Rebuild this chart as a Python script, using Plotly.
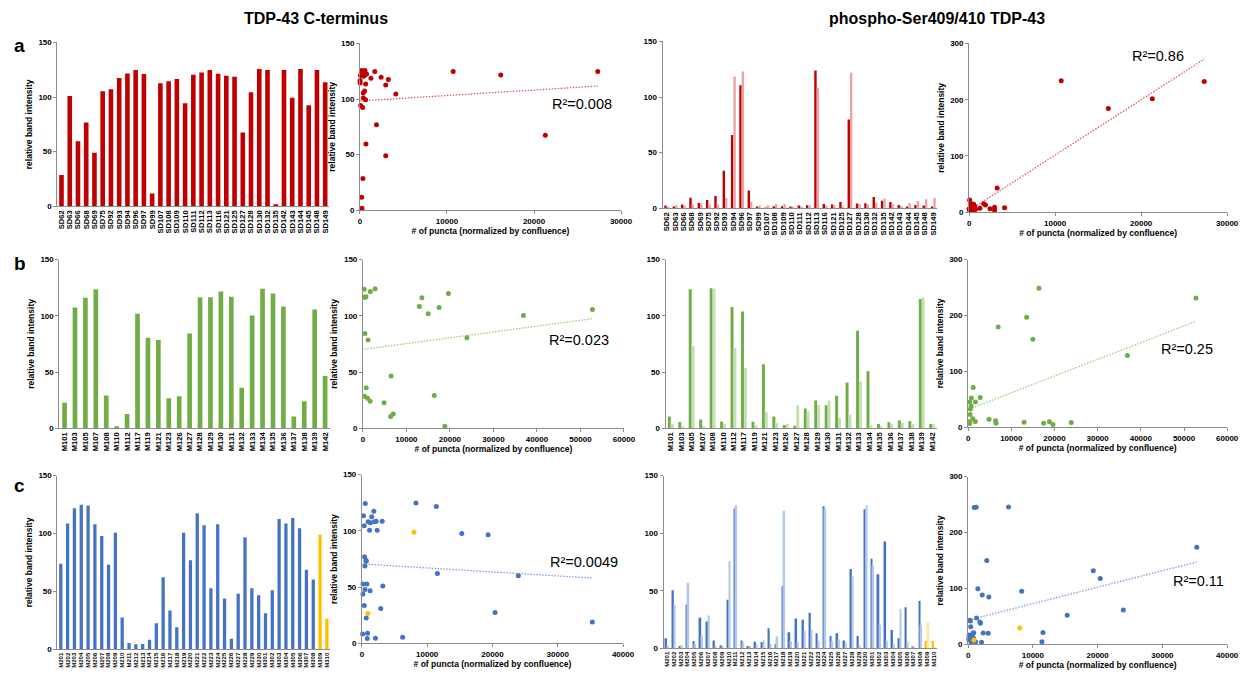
import numpy as np
import plotly.graph_objects as go

W, H = 1256, 678
FONT = "Liberation Sans, Arial, sans-serif"
AXIS_GREY = "#8c8c8c"

# ---------------- SD series ----------------
sd_labels = ["SD62", "SD63", "SD66", "SD68", "SD69", "SD75", "SD92", "SD93", "SD94", "SD96",
             "SD97", "SD99", "SD107", "SD108", "SD109", "SD110", "SD111", "SD112", "SD113", "SD116",
             "SD121", "SD125", "SD127", "SD128", "SD130", "SD132", "SD135", "SD142", "SD143", "SD144",
             "SD145", "SD148", "SD149"]
sd_cterm = [28.6, 100.9, 59.6, 76.8, 49.1, 105.4, 107.2, 117.5, 121.7, 124.7,
            121.1, 11.7, 112.7, 114.5, 116.6, 94.3, 120.5, 122.6, 124.7, 121.4,
            119.6, 118.7, 67.5, 104.5, 125.6, 124.7, 1.8, 124.7, 99.4, 125.6,
            92.5, 124.7, 113.6]
sd_phos_rep1 = [2.4, 1.5, 3.3, 9.5, 4.7, 7.4, 11.0, 33.8, 65.8, 110.6,
                16.0, 1.0, 0.6, 1.8, 1.8, 1.5, 2.4, 2.7, 124.0, 3.9,
                3.3, 5.6, 79.8, 4.2, 4.4, 10.1, 6.8, 5.6, 3.0, 1.5,
                3.0, 2.4, 1.5]
sd_phos_rep2 = [1.0, 2.7, 2.4, 3.3, 4.2, 3.3, 3.3, 9.2, 118.6, 123.0,
                5.9, 2.4, 2.7, 3.9, 3.9, 1.2, 1.8, 2.7, 108.2, 2.4,
                2.7, 1.5, 122.0, 3.9, 3.3, 5.0, 8.6, 3.6, 2.1, 4.7,
                6.5, 8.0, 9.2]
sd_puncta = [340, 380, 690, 1900, 2960, 380, 530, 3260, 16180, 10710,
             60, 190, 2960, 20, 10, 76, 380, 760, 27330, 570,
             2430, 1260, 21300, 4120, 190, 1700, 230, 460, 650, 570,
             305, 300, 650]

# ---------------- M1xx series ----------------
m1_labels = ["M101", "M103", "M105", "M107", "M108", "M110", "M112", "M117", "M119", "M121",
             "M123", "M126", "M127", "M128", "M129", "M130", "M131", "M132", "M133", "M134",
             "M135", "M136", "M137", "M138", "M139", "M142"]
m1_cterm = [22.8, 107.3, 116.1, 123.7, 29.2, 1.8, 12.6, 101.8, 80.4, 78.4,
            26.6, 28.4, 84.2, 116.4, 116.4, 121.6, 117.0, 36.0, 100.3, 124.0,
            119.9, 108.2, 10.5, 24.0, 105.6, 46.5]
m1_phos_rep1 = [10.5, 5.6, 123.7, 7.9, 124.6, 6.1, 107.9, 103.8, 5.8, 57.0,
                10.5, 2.9, 2.3, 17.5, 24.6, 20.5, 28.9, 40.6, 86.8, 50.6,
                3.8, 5.3, 7.0, 6.4, 114.9, 3.8]
m1_phos_rep2 = [3.8, 1.5, 73.1, 2.0, 124.0, 3.8, 71.3, 53.8, 2.9, 14.3,
                4.7, 3.8, 20.5, 15.2, 20.8, 24.6, 9.1, 12.0, 41.5, 2.9,
                1.2, 3.8, 4.7, 3.8, 116.4, 3.5]
m1_puncta = [4850, 17500, 13560, 300, 16400, 18840, 6970, 15000, 23900, 1170,
             1060, 380, 450, 530, 340, 1700, 690, 760, 36900, 2800,
             19650, 12960, 6360, 1660, 52750, 6480]

# ---------------- M2xx / M3xx series ----------------
m2_labels = ["M201", "M202", "M203", "M204", "M205", "M206", "M207", "M208", "M209", "M210",
             "M211", "M212", "M213", "M214", "M215", "M216", "M217", "M218", "M219", "M220",
             "M221", "M222", "M223", "M224", "M225", "M226", "M227", "M228", "M229", "M230",
             "M301", "M302", "M303", "M304", "M305", "M306", "M307", "M308", "M309", "M310"]
m2_cterm = [73.9, 108.6, 121.8, 124.9, 124.3, 108.1, 97.8, 73.0, 100.7, 27.4,
            5.4, 4.3, 4.6, 8.3, 22.5, 62.2, 33.6, 19.1, 100.7, 77.0,
            117.5, 107.2, 52.8, 108.1, 43.9, 9.1, 47.9, 96.7, 52.8, 46.8,
            31.1, 51.0, 112.6, 108.6, 113.5, 104.6, 68.7, 60.2, 98.9, 26.5]
m2_phos_rep1 = [8.8, 50.5, 2.0, 37.9, 6.3, 26.5, 23.4, 6.8, 2.6, 42.2,
                121.5, 6.8, 2.0, 5.7, 5.4, 17.4, 3.7, 54.2, 14.0, 25.9,
                24.8, 30.8, 13.1, 123.5, 10.6, 13.1, 6.8, 69.0, 10.6, 120.9,
                77.8, 64.4, 92.7, 16.0, 8.8, 35.6, 1.7, 41.3, 6.3, 6.3]
m2_phos_rep2 = [2.9, 37.9, 2.9, 57.0, 3.7, 11.4, 28.5, 2.0, 2.0, 75.6,
                124.3, 5.1, 2.0, 3.1, 7.1, 3.7, 10.3, 119.5, 6.3, 5.7,
                15.1, 16.3, 6.6, 121.5, 6.3, 7.7, 4.8, 62.7, 3.1, 124.3,
                72.1, 20.5, 6.6, 3.7, 34.2, 6.0, 1.1, 20.2, 22.8, 1.4]
m2_puncta = [610, 2180, 11400, 8270, 510, 1900, 15300, 660, 1160, 20400,
             6240, 810, 2070, 100, 660, 11560, 350, 35300, 2330, 400,
             1820, 1290, 760, 950, 150, 860, 460, 19330, 150, 1250,
             2880, 3200, 1500, 3100, 250, 350, 460, 23970, 7970, 910]
m2_highlight = ["M309", "M310"]

r2_cterm = ["0.008", "0.023", "0.0049"]
r2_phos = ["0.86", "0.25", "0.11"]

column_titles = ["TDP-43 C-terminus", "phospho-Ser409/410 TDP-43"]
row_letters = ["a", "b", "c"]

# ---------------- styling per row ----------------
rows = [
    dict(labels=sd_labels, cterm=sd_cterm, rep1=sd_phos_rep1, rep2=sd_phos_rep2, puncta=sd_puncta,
         highlight=[], dark="#C00000", light="#EBA3A3", trend="#E05A5A",
         xmax=30000, xdtick=10000, catsize=7.6, single_w=0.56, pair_w=0.29),
    dict(labels=m1_labels, cterm=m1_cterm, rep1=m1_phos_rep1, rep2=m1_phos_rep2, puncta=m1_puncta,
         highlight=[], dark="#70AD47", light="#C5E0B4", trend="#9CCB7E",
         xmax=60000, xdtick=10000, catsize=7.6, single_w=0.45, pair_w=0.28),
    dict(labels=m2_labels, cterm=m2_cterm, rep1=m2_phos_rep1, rep2=m2_phos_rep2, puncta=m2_puncta,
         highlight=m2_highlight, dark="#4472C4", light="#B4C7E7", trend="#7E9FD8",
         xmax=40000, xdtick=10000, catsize=6.0, single_w=0.48, pair_w=0.25),
]
HL_DARK, HL_LIGHT = "#FFC000", "#FFE699"

# panel rectangles in pixels: left, right, top, bottom
panel_px = [
    [(56, 331, 39, 205), (362, 626, 40, 209), (668, 946, 38, 207), (978, 1239, 40, 211)],
    [(58, 332, 259, 430), (365, 629, 259, 430), (671, 946, 259, 430), (977, 1239, 259, 429)],
    [(56, 332, 478, 654), (364, 628, 477, 648), (669, 946, 478, 653), (977, 1239, 479, 649)],
]
r2_pos = [[(587, 101), (1169, 53)], [(583, 341), (1198, 350)], [(589, 566), (1210, 585)]]


def tick_font(size=8):
    return dict(family=FONT, size=size, color="black", weight="bold")


def base_axis():
    return dict(showline=True, linecolor=AXIS_GREY, linewidth=1, showgrid=False, zeroline=False,
                tickfont=tick_font(), ticks="outside", ticklen=3, tickcolor=AXIS_GREY)


def ytitle(show):
    if not show:
        return None
    return dict(text="relative band intensity", font=dict(family=FONT, size=8.5, color="black", weight="bold"),
                standoff=4)


fig = go.Figure()
layout = dict(width=W, height=H, margin=dict(l=0, r=0, t=0, b=0), paper_bgcolor="white",
              plot_bgcolor="white", showlegend=False, barmode="overlay", annotations=[])

for r, row in enumerate(rows):
    labels = row["labels"]
    n = len(labels)
    hl = [lab in row["highlight"] for lab in labels]
    dark_cols = [HL_DARK if h else row["dark"] for h in hl]
    light_cols = [HL_LIGHT if h else row["light"] for h in hl]
    phos_total = [a + b for a, b in zip(row["rep1"], row["rep2"])]

    for c in range(4):
        k = r * 4 + c + 1
        sx = "" if k == 1 else str(k)
        xref, yref = "x" + sx, "y" + sx
        left, right, top, bot = panel_px[r][c]
        xdom = [left / W, right / W]
        ydom = [1 - bot / H, 1 - top / H]

        if c in (0, 2):
            # bar charts
            if c == 0:
                fig.add_trace(go.Bar(x=labels, y=row["cterm"], width=row["single_w"],
                                     marker=dict(color=dark_cols, line=dict(width=0)),
                                     xaxis=xref, yaxis=yref))
            else:
                w = row["pair_w"]
                fig.add_trace(go.Bar(x=labels, y=row["rep1"], width=w, offset=-w,
                                     marker=dict(color=dark_cols, line=dict(width=0)),
                                     xaxis=xref, yaxis=yref))
                fig.add_trace(go.Bar(x=labels, y=row["rep2"], width=w, offset=0,
                                     marker=dict(color=light_cols, line=dict(width=0)),
                                     xaxis=xref, yaxis=yref))
            xa = base_axis()
            xa.update(type="category", domain=xdom, anchor=yref, range=[-0.5, n - 0.5],
                      tickangle=-90, ticks="", tickfont=tick_font(row["catsize"]),
                      tickmode="array", tickvals=labels, ticktext=labels,
                      categoryorder="array", categoryarray=labels)
            ya = base_axis()
            ya.update(domain=ydom, anchor=xref, range=[0, 150], tickvals=[0, 50, 100, 150])
            t = ytitle(c == 0)
            if t:
                ya["title"] = t
        else:
            # scatter with linear trend line
            yvals = row["cterm"] if c == 1 else phos_total
            ymax = 150 if c == 1 else 300
            ydt = 50 if c == 1 else 100
            xv = np.array(row["puncta"], dtype=float)
            yv = np.array(yvals, dtype=float)
            slope, icpt = np.polyfit(xv, yv, 1)
            xs = np.array([xv.min(), xv.max()])
            fig.add_trace(go.Scatter(x=xs, y=slope * xs + icpt, mode="lines",
                                     line=dict(color=row["trend"], width=1.3, dash="1.5px,1.5px"),
                                     xaxis=xref, yaxis=yref, hoverinfo="skip"))
            fig.add_trace(go.Scatter(x=row["puncta"], y=yvals, mode="markers", cliponaxis=False,
                                     marker=dict(color=dark_cols, size=5),
                                     xaxis=xref, yaxis=yref))
            xa = base_axis()
            xa.update(domain=xdom, anchor=yref, range=[0, row["xmax"]], dtick=row["xdtick"],
                      tick0=0, tickformat="d",
                      title=dict(text="# of puncta (normalized by confluence)",
                                 font=dict(family=FONT, size=8.5, color="black", weight="bold"),
                                 standoff=2))
            ya = base_axis()
            ya.update(domain=ydom, anchor=xref, range=[0, ymax], dtick=ydt, tick0=0, title=ytitle(True))
            px_, py_ = r2_pos[r][0 if c == 1 else 1]
            val = r2_cterm[r] if c == 1 else r2_phos[r]
            layout["annotations"].append(dict(
                text="R\u00b2=" + val, x=px_ / W, y=1 - py_ / H, xref="paper", yref="paper",
                xanchor="center", yanchor="middle", showarrow=False,
                font=dict(family=FONT, size=14.5, color="black")))

        layout["xaxis" + sx] = xa
        layout["yaxis" + sx] = ya

# column headers
for txt, cx in zip(column_titles, [318, 946]):
    layout["annotations"].append(dict(text=txt, x=cx / W, y=1 - 15 / H, xref="paper", yref="paper",
                                      xanchor="center", yanchor="middle", showarrow=False,
                                      font=dict(family=FONT, size=16, color="black", weight="bold")))
# row letters
for letter, cy in zip(row_letters, [42, 263, 488]):
    layout["annotations"].append(dict(text=letter, x=18 / W, y=1 - cy / H, xref="paper", yref="paper",
                                      xanchor="center", yanchor="middle", showarrow=False,
                                      font=dict(family=FONT, size=19, color="black", weight="bold")))

fig.update_layout(**layout)
fig.write_html("out.html")
